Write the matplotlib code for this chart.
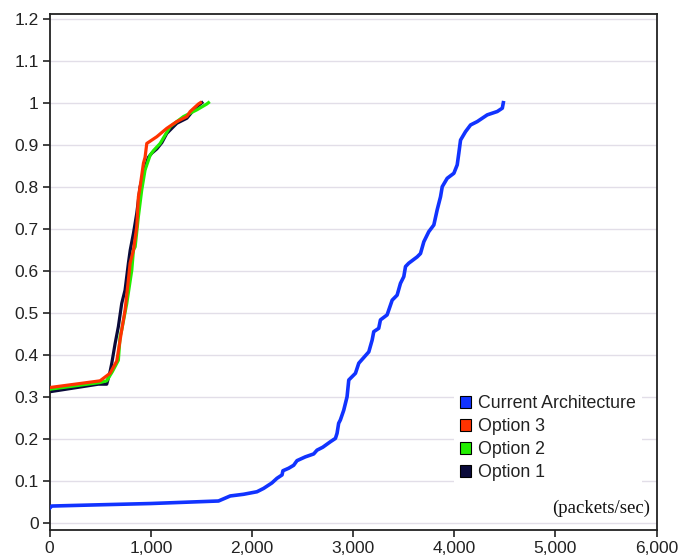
import matplotlib
matplotlib.use("Agg")
import matplotlib.pyplot as plt
from matplotlib.patches import Patch
from matplotlib.ticker import FuncFormatter

# ---- data ----
cur_x = [0, 20, 500, 1000, 1669, 1785, 1917, 2049, 2115, 2197, 2247, 2297, 2306, 2363, 2412, 2445,
         2527, 2610, 2643, 2700, 2775, 2825, 2841, 2857, 2874, 2907, 2940, 2957, 3023, 3056, 3155,
         3188, 3204, 3253, 3270, 3336, 3386, 3435, 3468, 3501, 3518, 3550, 3633, 3666, 3699, 3748,
         3798, 3831, 3864, 3881, 3930, 3996, 4029, 4045, 4062, 4111, 4161, 4227, 4326, 4425, 4475, 4485]
cur_y = [0.035, 0.040, 0.043, 0.046, 0.052, 0.064, 0.068, 0.074, 0.082, 0.095, 0.106, 0.114, 0.124,
         0.130, 0.137, 0.148, 0.157, 0.164, 0.173, 0.180, 0.193, 0.201, 0.213, 0.237, 0.245, 0.268,
         0.300, 0.340, 0.356, 0.380, 0.407, 0.435, 0.455, 0.463, 0.483, 0.495, 0.530, 0.542, 0.570,
         0.586, 0.610, 0.618, 0.633, 0.641, 0.669, 0.693, 0.709, 0.745, 0.776, 0.800, 0.820, 0.832,
         0.852, 0.880, 0.911, 0.931, 0.947, 0.955, 0.971, 0.979, 0.987, 1.0]

opt3_x = [0, 498, 597, 663, 712, 745, 778, 795, 828, 861, 877, 894, 927, 943, 960, 1059, 1158,
          1257, 1356, 1389, 1471, 1490]
opt3_y = [0.322, 0.338, 0.356, 0.385, 0.459, 0.506, 0.578, 0.618, 0.649, 0.705, 0.776, 0.800,
          0.856, 0.870, 0.903, 0.919, 0.939, 0.955, 0.967, 0.979, 0.997, 1.0]

opt2_x = [0, 498, 564, 620, 679, 696, 712, 762, 812, 828, 845, 877, 910, 943, 976, 993, 1026,
          1092, 1191, 1323, 1455, 1554, 1570]
opt2_y = [0.318, 0.334, 0.338, 0.360, 0.387, 0.443, 0.459, 0.522, 0.602, 0.649, 0.657, 0.729,
          0.792, 0.840, 0.863, 0.875, 0.886, 0.903, 0.943, 0.967, 0.983, 0.997, 1.0]

opt1_x = [0, 481, 564, 597, 614, 647, 679, 712, 745, 778, 796, 828, 861, 894, 927, 943, 976,
          1010, 1059, 1109, 1158, 1257, 1356, 1438, 1505]
opt1_y = [0.312, 0.330, 0.330, 0.360, 0.380, 0.427, 0.467, 0.522, 0.554, 0.618, 0.649, 0.689,
          0.737, 0.800, 0.830, 0.845, 0.870, 0.880, 0.890, 0.905, 0.927, 0.951, 0.963, 0.987, 1.0]

series_names = ["Current Architecture", "Option 3", "Option 2", "Option 1"]
series_colors = ["#1133ff", "#ff3300", "#22ee00", "#0a0a3a"]

x_ticks = [0, 1000, 2000, 3000, 4000, 5000, 6000]
y_ticks = [0, 0.1, 0.2, 0.3, 0.4, 0.5, 0.6, 0.7, 0.8, 0.9, 1.0, 1.1, 1.2]
unit_label = "(packets/sec)"

# ---- figure ----
plt.rcParams['font.family'] = ['Liberation Sans', 'DejaVu Sans']
fig = plt.figure(figsize=(6.92, 5.59), dpi=100)
ax = fig.add_axes([0.0718, 0.0519, 0.877, 0.923])

ax.set_xlim(0, 6000)
ax.set_ylim(-0.017, 1.211)
ax.set_xticks(x_ticks)
ax.set_yticks(y_ticks)
ax.xaxis.set_major_formatter(FuncFormatter(lambda v, p: f"{int(v):,}"))
ax.yaxis.set_major_formatter(FuncFormatter(lambda v, p: f"{v:g}"))
ax.tick_params(axis='both', direction='out', length=5, width=1.2, labelsize=12.5,
               colors='#222222', pad=3)
for s in ax.spines.values():
    s.set_linewidth(1.3)
    s.set_color('#222222')

for yv in y_ticks:
    ax.axhline(yv, color='#e2dee8', lw=1.0, zorder=0)

lw = 2.3
ax.plot(opt1_x, opt1_y, color=series_colors[3], lw=lw, zorder=2)
ax.plot(opt2_x, opt2_y, color=series_colors[2], lw=lw, zorder=3)
ax.plot(opt3_x, opt3_y, color=series_colors[1], lw=lw, zorder=4)
ax.plot(cur_x, cur_y, color=series_colors[0], lw=lw + 0.3, zorder=5)

handles = [Patch(facecolor=c, edgecolor='black', linewidth=0.8) for c in series_colors]
leg = ax.legend(handles, series_names, loc='upper left', bbox_to_anchor=(0.667, 0.271),
                frameon=True, fancybox=False, framealpha=1, facecolor='white', edgecolor='none',
                fontsize=12.8, handlelength=0.62, handleheight=0.62, handletextpad=0.42,
                labelspacing=0.33, borderpad=0.3, borderaxespad=0)
for t in leg.get_texts():
    t.set_color('#222222')

ax.text(5940, 0.035, unit_label, ha='right', va='center', fontsize=13.5,
        family=['Liberation Serif', 'DejaVu Serif'], color='#111111')

fig.savefig("out.png", dpi=100)
